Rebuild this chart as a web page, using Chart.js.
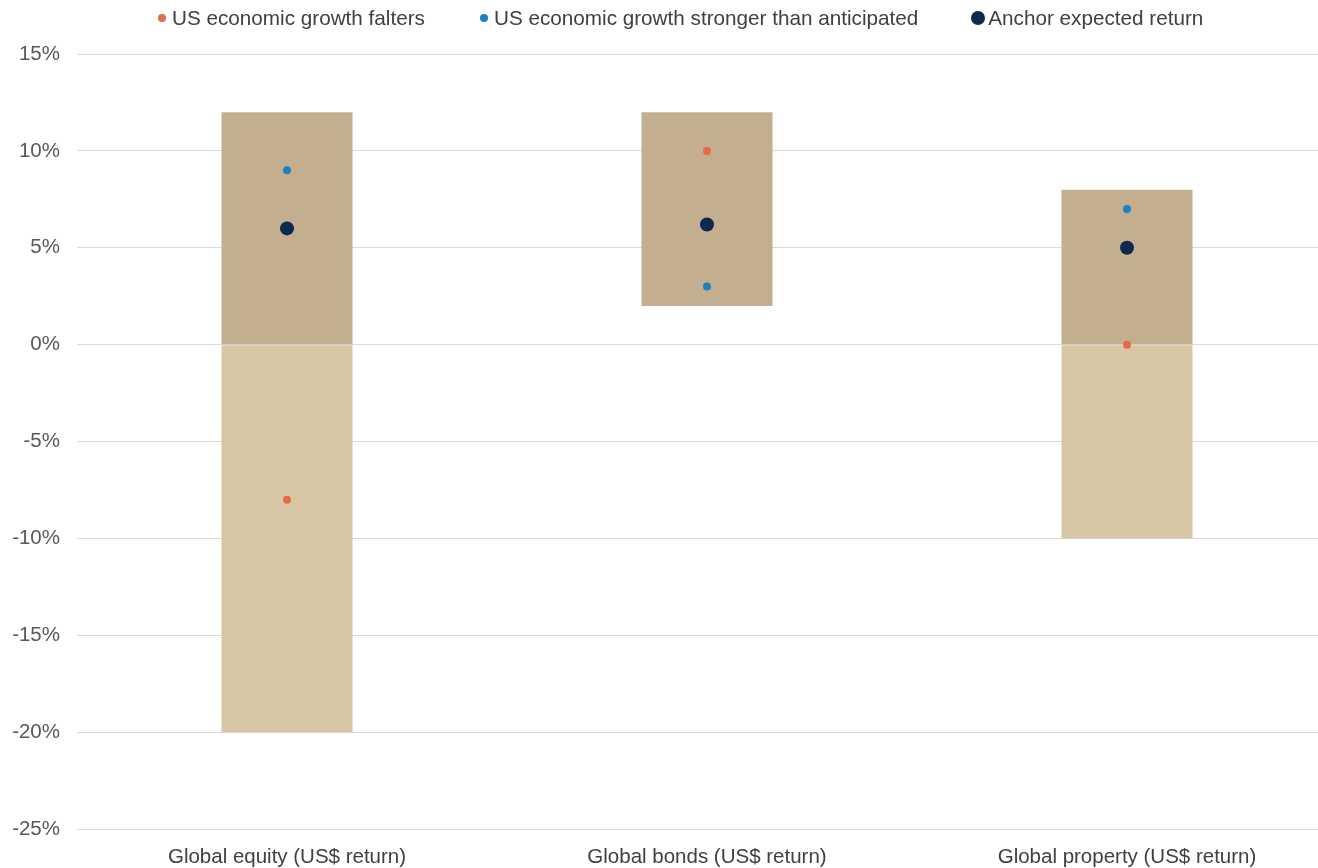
<!DOCTYPE html>
<html lang="en">
<head>
    <meta charset="UTF-8">
    <title>Return scenarios</title>
    <script src="https://cdn.jsdelivr.net/npm/chart.js"></script>
    <style>
        html, body { margin: 0; padding: 0; background: #fff; overflow: hidden; }
        body { font-family: "Liberation Sans", Arial, sans-serif; }
        #wrap { position: relative; width: 1344px; height: 868px; }
        #legend { position: absolute; top: 6px; left: 158px; display: flex; align-items: center;
                  font-size: 20.7px; color: #404040; white-space: nowrap; z-index: 2; }
        #legend .item { display: flex; align-items: center; }
        #legend .dot { display: inline-block; border-radius: 50%; margin-right: 6px; }
    </style>
</head>
<body>
    <div id="wrap">
        <div id="legend"></div>
        <canvas id="chart"></canvas>
    </div>

    <script>
        const categories = ['Global equity (US$ return)', 'Global bonds (US$ return)', 'Global property (US$ return)'];

        // full range of outcomes per asset class
        const rangeLow = [-20, 2, -10];
        const rangeHigh = [12, 12, 8];

        const falters = [-8, 10, 0];
        const stronger = [9, 3, 7];
        const anchor = [6, 6.2, 5];

        const yTicks = [-25, -20, -15, -10, -5, 0, 5, 10, 15];

        // split each range at zero: darker part above, lighter part below
        const upperPart = rangeLow.map((lo, i) => [Math.max(lo, 0), rangeHigh[i]]);
        const lowerPart = rangeLow.map((lo, i) => lo < 0 ? [lo, Math.min(rangeHigh[i], 0)] : null);

        const dotSets = [
            { label: 'US economic growth falters', data: falters, color: '#e8694a', r: 4 },
            { label: 'US economic growth stronger than anticipated', data: stronger, color: '#1b80c4', r: 4 },
            { label: 'Anchor expected return', data: anchor, color: '#0c2a4e', r: 7 }
        ];

        const datasets = [
            { type: 'bar', data: upperPart, backgroundColor: '#c3ae8f', grouped: false,
              categoryPercentage: 1, barPercentage: 0.312, order: 3 },
            { type: 'bar', data: lowerPart, backgroundColor: '#d7c7a4', grouped: false,
              categoryPercentage: 1, barPercentage: 0.312, order: 3 }
        ];
        dotSets.forEach(s => datasets.push({
            type: 'line', label: s.label, data: s.data, showLine: false,
            pointRadius: s.r, pointHoverRadius: s.r, pointBackgroundColor: s.color,
            pointBorderWidth: 0, borderColor: s.color, order: 1
        }));

        // legend row
        const legend = document.getElementById('legend');
        const gaps = [55, 53, 0];
        dotSets.forEach((s, i) => {
            const item = document.createElement('span');
            item.className = 'item';
            item.style.marginRight = gaps[i] + 'px';
            const dot = document.createElement('span');
            dot.className = 'dot';
            dot.style.width = dot.style.height = (s.r * 2) + 'px';
            dot.style.background = s.color;
            if (i === 2) dot.style.marginRight = '3px';
            item.appendChild(dot);
            item.appendChild(document.createTextNode(s.label));
            legend.appendChild(item);
        });

        const canvas = document.getElementById('chart');
        canvas.width = 1344;
        canvas.height = 868;

        new Chart(canvas.getContext('2d'), {
            type: 'bar',
            data: { labels: categories, datasets: datasets },
            options: {
                responsive: false,
                animation: false,
                layout: { padding: { top: 54, right: 3, left: 0, bottom: 0 } },
                plugins: { legend: { display: false }, tooltip: { enabled: false } },
                scales: {
                    x: {
                        grid: { display: false },
                        border: { display: false },
                        ticks: { color: '#404040', padding: 8,
                                 font: { family: 'Liberation Sans', size: 20.5 } },
                        afterFit: s => { s.height = 39; }
                    },
                    y: {
                        min: -25,
                        max: 15,
                        afterBuildTicks: s => { s.ticks = yTicks.map(v => ({ value: v })); },
                        grid: { color: '#d9d9d9', lineWidth: 1, drawTicks: false },
                        border: { display: false },
                        ticks: { color: '#595959', padding: 17, callback: v => v + '%',
                                 font: { family: 'Liberation Sans', size: 20.5 } },
                        afterFit: s => { s.width = 77; }
                    }
                }
            }
        });
    </script>
</body>
</html>
